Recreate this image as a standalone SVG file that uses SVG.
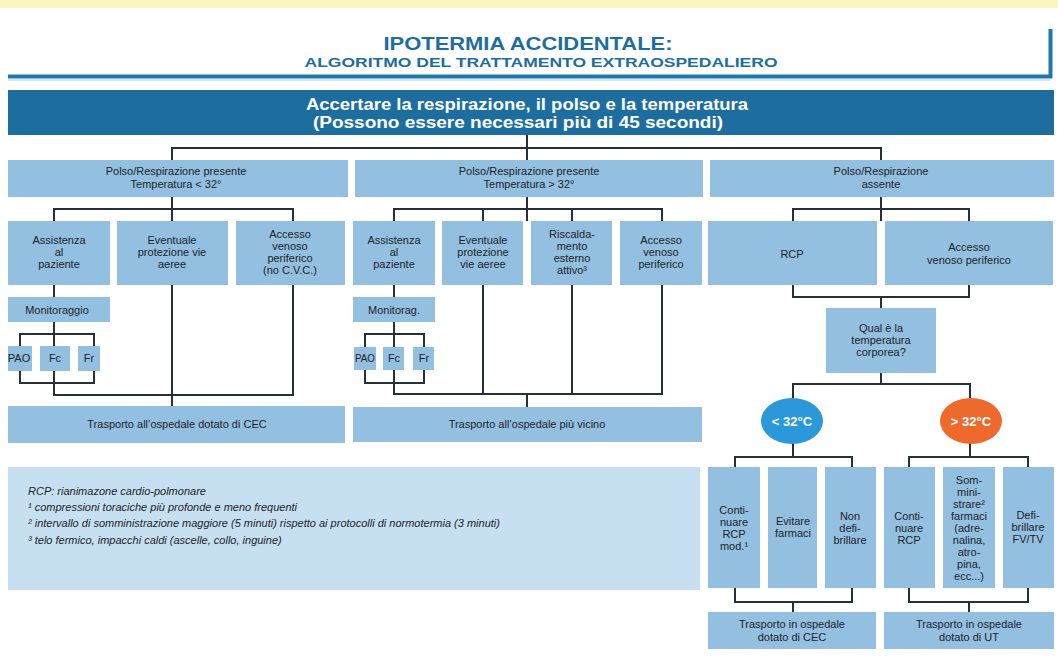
<svg xmlns="http://www.w3.org/2000/svg" width="1058" height="656" viewBox="0 0 1058 656">
  <style>
    .box { fill: #93bfe0; }
    .note { fill: #c6dff1; }
    .t { font-family: "Liberation Sans", Arial, sans-serif; font-size: 11px; fill: #1e2428; text-anchor: middle; }
    .ti { font-family: "Liberation Sans", Arial, sans-serif; font-size: 11px; fill: #1e2428; font-style: italic; }
    .hd { font-family: "Liberation Sans", Arial, sans-serif; font-weight: bold; fill: #ffffff; text-anchor: middle; font-size: 16px; }
    .title { font-family: "Liberation Sans", Arial, sans-serif; font-weight: bold; fill: #1d6d9f; text-anchor: middle; }
    .el { font-family: "Liberation Sans", Arial, sans-serif; font-weight: bold; fill: #ffffff; text-anchor: middle; font-size: 13px; }
    .conn path { fill: none; stroke: #263036; stroke-width: 2; }
  </style>

  <!-- page background -->
  <rect x="0" y="0" width="1058" height="656" fill="#ffffff"/>
  <rect x="0" y="0" width="1058" height="8" fill="#fcf5c2"/>

  <!-- title frame -->
  <g id="title">
    <path d="M8 76.5 H1050.5 V29" fill="none" stroke="#1f78ab" stroke-width="4"/>
    <line x1="8" y1="80" x2="1050" y2="80" stroke="#a9cde6" stroke-width="1"/>
    <text class="title" x="528" y="50" font-size="19" textLength="289" lengthAdjust="spacingAndGlyphs">IPOTERMIA ACCIDENTALE:</text>
    <text class="title" x="541" y="67" font-size="13" textLength="473" lengthAdjust="spacingAndGlyphs">ALGORITMO DEL TRATTAMENTO EXTRAOSPEDALIERO</text>
  </g>

  <!-- main header -->
  <g id="header">
    <rect x="8" y="90" width="1046" height="45" fill="#1d6e9f"/>
    <text class="hd" x="527" y="110" textLength="442" lengthAdjust="spacingAndGlyphs">Accertare la respirazione, il polso e la temperatura</text>
    <text class="hd" x="518" y="128" textLength="410" lengthAdjust="spacingAndGlyphs">(Possono essere necessari più di 45 secondi)</text>
  </g>

  <!-- connectors -->
  <g class="conn" id="connectors">
    <path d="M527 135 V160 M172 160 V148 H881 V160"/>
    <!-- left column -->
    <path d="M172 197 V221 M54 221 V209 H293 V221"/>
    <path d="M54 285 V297 M54 322 V395 H293 V285 M172 285 V406"/>
    <path d="M20 346 V334 H94 V346 M20 371 V383 H94 V371"/>
    <!-- middle column -->
    <path d="M527 197 V221 M394 221 V209 H662 V221 M483 209 V221 M572 209 V221"/>
    <path d="M394 285 V297 M394 322 V394 H662 V285 M483 285 V394 M572 285 V394 M527 394 V407"/>
    <path d="M365 347 V334 H424 V347 M365 370 V383 H424 V370"/>
    <!-- right column -->
    <path d="M881 197 V221 M793 221 V209 H969 V221"/>
    <path d="M793 285 V297 H969 V285 M881 297 V308"/>
    <path d="M881 373 V384 M793 398 V384 H970 V398"/>
    <path d="M793 443 V457 M735 467 V457 H852 V467"/>
    <path d="M970 443 V457 M909 467 V457 H1028 V467"/>
    <path d="M735 588 V602 H852 V588 M793 602 V612"/>
    <path d="M909 588 V602 H1028 V588 M969 602 V612"/>
  </g>

  <!-- first level -->
  <g id="present-low">
    <rect class="box" x="8" y="160" width="340" height="37"/>
    <text class="t" x="176" y="175">Polso/Respirazione presente</text>
    <text class="t" x="176" y="188">Temperatura &lt; 32°</text>
  </g>
  <g id="present-high">
    <rect class="box" x="355" y="160" width="348" height="37"/>
    <text class="t" x="529" y="175">Polso/Respirazione presente</text>
    <text class="t" x="529" y="188">Temperatura &gt; 32°</text>
  </g>
  <g id="absent">
    <rect class="box" x="710" y="160" width="344" height="37"/>
    <text class="t" x="881" y="175">Polso/Respirazione</text>
    <text class="t" x="881" y="188">assente</text>
  </g>

  <!-- left column nodes -->
  <g id="l-assist">
    <rect class="box" x="8" y="221" width="102" height="64"/>
    <text class="t" x="59" y="244">Assistenza</text>
    <text class="t" x="59" y="256">al</text>
    <text class="t" x="59" y="268">paziente</text>
  </g>
  <g id="l-airway">
    <rect class="box" x="117" y="221" width="111" height="64"/>
    <text class="t" x="172" y="244">Eventuale</text>
    <text class="t" x="172" y="256">protezione vie</text>
    <text class="t" x="172" y="268">aeree</text>
  </g>
  <g id="l-access">
    <rect class="box" x="236" y="221" width="109" height="64"/>
    <text class="t" x="290" y="238">Accesso</text>
    <text class="t" x="290" y="250">venoso</text>
    <text class="t" x="290" y="262">periferico</text>
    <text class="t" x="290" y="274">(no C.V.C.)</text>
  </g>
  <g id="l-monitor">
    <rect class="box" x="8" y="297" width="102" height="25"/>
    <text class="t" x="57" y="314">Monitoraggio</text>
  </g>
  <g id="l-pao">
    <rect class="box" x="8" y="346" width="24" height="25"/>
    <text class="t" x="19" y="362">PAO</text>
  </g>
  <g id="l-fc">
    <rect class="box" x="40" y="346" width="30" height="25"/>
    <text class="t" x="55" y="362">Fc</text>
  </g>
  <g id="l-fr">
    <rect class="box" x="78" y="346" width="22" height="25"/>
    <text class="t" x="89" y="362">Fr</text>
  </g>
  <g id="l-transport">
    <rect class="box" x="8" y="406" width="337" height="37"/>
    <text class="t" x="177" y="428">Trasporto all’ospedale dotato di CEC</text>
  </g>

  <!-- middle column nodes -->
  <g id="m-assist">
    <rect class="box" x="353" y="221" width="82" height="64"/>
    <text class="t" x="394" y="244">Assistenza</text>
    <text class="t" x="394" y="256">al</text>
    <text class="t" x="394" y="268">paziente</text>
  </g>
  <g id="m-airway">
    <rect class="box" x="442" y="221" width="81" height="64"/>
    <text class="t" x="483" y="244">Eventuale</text>
    <text class="t" x="483" y="256">protezione</text>
    <text class="t" x="483" y="268">vie aeree</text>
  </g>
  <g id="m-warming">
    <rect class="box" x="531" y="221" width="81" height="64"/>
    <text class="t" x="572" y="238">Riscalda-</text>
    <text class="t" x="572" y="250">mento</text>
    <text class="t" x="572" y="262">esterno</text>
    <text class="t" x="572" y="274">attivo³</text>
  </g>
  <g id="m-access">
    <rect class="box" x="620" y="221" width="82" height="64"/>
    <text class="t" x="661" y="244">Accesso</text>
    <text class="t" x="661" y="256">venoso</text>
    <text class="t" x="661" y="268">periferico</text>
  </g>
  <g id="m-monitor">
    <rect class="box" x="353" y="297" width="82" height="25"/>
    <text class="t" x="394" y="314">Monitorag.</text>
  </g>
  <g id="m-pao">
    <rect class="box" x="354" y="347" width="22" height="23"/>
    <text class="t" x="365" y="362" textLength="20" lengthAdjust="spacingAndGlyphs">PAO</text>
  </g>
  <g id="m-fc">
    <rect class="box" x="383" y="347" width="21" height="23"/>
    <text class="t" x="394" y="362">Fc</text>
  </g>
  <g id="m-fr">
    <rect class="box" x="413" y="347" width="21" height="23"/>
    <text class="t" x="424" y="362">Fr</text>
  </g>
  <g id="m-transport">
    <rect class="box" x="353" y="407" width="349" height="35"/>
    <text class="t" x="527" y="428">Trasporto all’ospedale più vicino</text>
  </g>

  <!-- right column nodes -->
  <g id="r-rcp">
    <rect class="box" x="708" y="221" width="169" height="64"/>
    <text class="t" x="792" y="258">RCP</text>
  </g>
  <g id="r-access">
    <rect class="box" x="885" y="221" width="168" height="64"/>
    <text class="t" x="969" y="251">Accesso</text>
    <text class="t" x="969" y="264">venoso periferico</text>
  </g>
  <g id="r-question">
    <rect class="box" x="826" y="308" width="110" height="65"/>
    <text class="t" x="881" y="332">Qual è la</text>
    <text class="t" x="881" y="344">temperatura</text>
    <text class="t" x="881" y="356">corporea?</text>
  </g>
  <g id="r-cold">
    <ellipse cx="792" cy="421" rx="31" ry="23" fill="#2a98d9"/>
    <text class="el" x="792" y="426">&lt; 32°C</text>
  </g>
  <g id="r-warm">
    <ellipse cx="971" cy="421" rx="31" ry="23" fill="#ee6a2c"/>
    <text class="el" x="971" y="426">&gt; 32°C</text>
  </g>

  <g id="c-cpr">
    <rect class="box" x="708" y="467" width="52" height="121"/>
    <text class="t" x="734" y="514">Conti-</text>
    <text class="t" x="734" y="526">nuare</text>
    <text class="t" x="734" y="538">RCP</text>
    <text class="t" x="734" y="550">mod.¹</text>
  </g>
  <g id="c-drugs">
    <rect class="box" x="768" y="467" width="49" height="121"/>
    <text class="t" x="793" y="525">Evitare</text>
    <text class="t" x="793" y="537">farmaci</text>
  </g>
  <g id="c-defib">
    <rect class="box" x="825" y="467" width="51" height="121"/>
    <text class="t" x="850" y="520">Non</text>
    <text class="t" x="850" y="532">defi-</text>
    <text class="t" x="850" y="544">brillare</text>
  </g>
  <g id="w-cpr">
    <rect class="box" x="884" y="467" width="51" height="121"/>
    <text class="t" x="909" y="520">Conti-</text>
    <text class="t" x="909" y="532">nuare</text>
    <text class="t" x="909" y="544">RCP</text>
  </g>
  <g id="w-drugs">
    <rect class="box" x="943" y="467" width="52" height="121"/>
    <text class="t" x="969" y="484">Som-</text>
    <text class="t" x="969" y="496">mini-</text>
    <text class="t" x="969" y="508">strare²</text>
    <text class="t" x="969" y="520">farmaci</text>
    <text class="t" x="969" y="532">(adre-</text>
    <text class="t" x="969" y="544">nalina,</text>
    <text class="t" x="969" y="556">atro-</text>
    <text class="t" x="969" y="568">pina,</text>
    <text class="t" x="969" y="580">ecc...)</text>
  </g>
  <g id="w-defib">
    <rect class="box" x="1003" y="467" width="51" height="121"/>
    <text class="t" x="1028" y="519">Defi-</text>
    <text class="t" x="1028" y="531">brillare</text>
    <text class="t" x="1028" y="543">FV/TV</text>
  </g>
  <g id="c-transport">
    <rect class="box" x="708" y="612" width="168" height="37"/>
    <text class="t" x="792" y="628">Trasporto in ospedale</text>
    <text class="t" x="792" y="641">dotato di CEC</text>
  </g>
  <g id="w-transport">
    <rect class="box" x="884" y="612" width="170" height="37"/>
    <text class="t" x="969" y="628">Trasporto in ospedale</text>
    <text class="t" x="969" y="641">dotato di UT</text>
  </g>

  <!-- footnotes -->
  <g id="legend">
    <rect class="note" x="8" y="467" width="692" height="123"/>
    <text class="ti" x="28" y="495">RCP: rianimazone cardio-polmonare</text>
    <text class="ti" x="28" y="511">¹ compressioni toraciche più profonde e meno frequenti</text>
    <text class="ti" x="28" y="527">² intervallo di somministrazione maggiore (5 minuti) rispetto ai protocolli di normotermia (3 minuti)</text>
    <text class="ti" x="28" y="544">³ telo fermico, impacchi caldi (ascelle, collo, inguine)</text>
  </g>
</svg>
